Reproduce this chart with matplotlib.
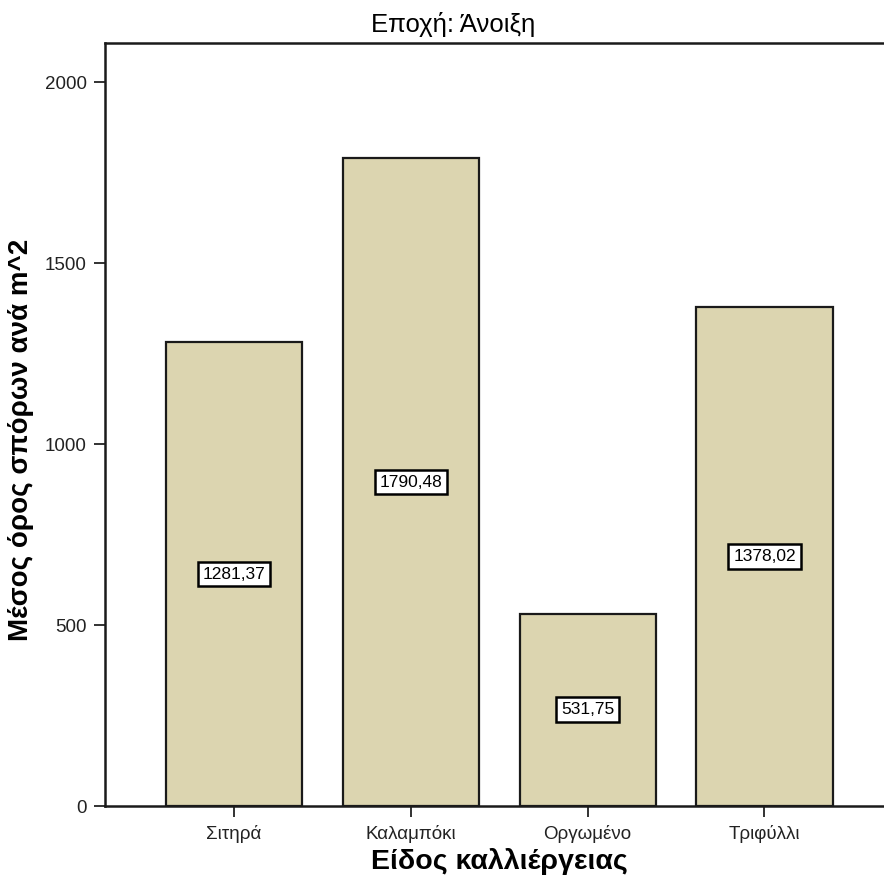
import matplotlib
matplotlib.use("Agg")
import matplotlib.pyplot as plt

plt.rcParams['font.family'] = ['Liberation Sans', 'DejaVu Sans']

categories = ["Σιτηρά", "Καλαμπόκι", "Οργωμένο", "Τριφύλλι"]
values = [1281.37, 1790.48, 531.75, 1378.02]
value_labels = ["1281,37", "1790,48", "531,75", "1378,02"]
yticks = [0, 500, 1000, 1500, 2000]

fig = plt.figure(figsize=(8.84, 8.83), dpi=100)
ax = fig.add_axes([0.1188, 0.0872, 0.892, 0.864])

x = range(len(categories))
ax.bar(x, values, width=0.77, color='#dcd5b0', edgecolor='#1a1a1a', linewidth=1.6, zorder=2)

for xi, v, lab in zip(x, values, value_labels):
    ax.text(xi, v / 2, lab, ha='center', va='center', fontsize=12.5, zorder=3,
            bbox=dict(boxstyle='square,pad=0.28', facecolor='white', edgecolor='black', linewidth=1.8))

ax.set_xlim(-0.73, 3.73)
ax.set_ylim(0, 2108)
ax.set_xticks(list(x))
ax.set_xticklabels(categories, fontsize=13.5)
ax.set_yticks(yticks)
ax.set_yticklabels([str(t) for t in yticks], fontsize=13.5)
ax.tick_params(axis='both', direction='out', length=8, width=1.3, colors='#222222', pad=5)
ax.tick_params(axis='x', pad=6)

for s in ['left', 'bottom', 'top']:
    ax.spines[s].set_linewidth(1.8)
    ax.spines[s].set_color('#1a1a1a')
ax.spines['right'].set_visible(False)

ax.set_title("Εποχή: Άνοιξη", fontsize=18.5, pad=8, x=0.441)
ax.set_xlabel("Είδος καλλιέργειας", fontsize=20.5, fontweight='bold', labelpad=3)
ax.set_ylabel("Μέσος όρος σπόρων ανά m^2", fontsize=20, fontweight='bold', labelpad=8, y=0.48)

fig.savefig("out.png", dpi=100)
